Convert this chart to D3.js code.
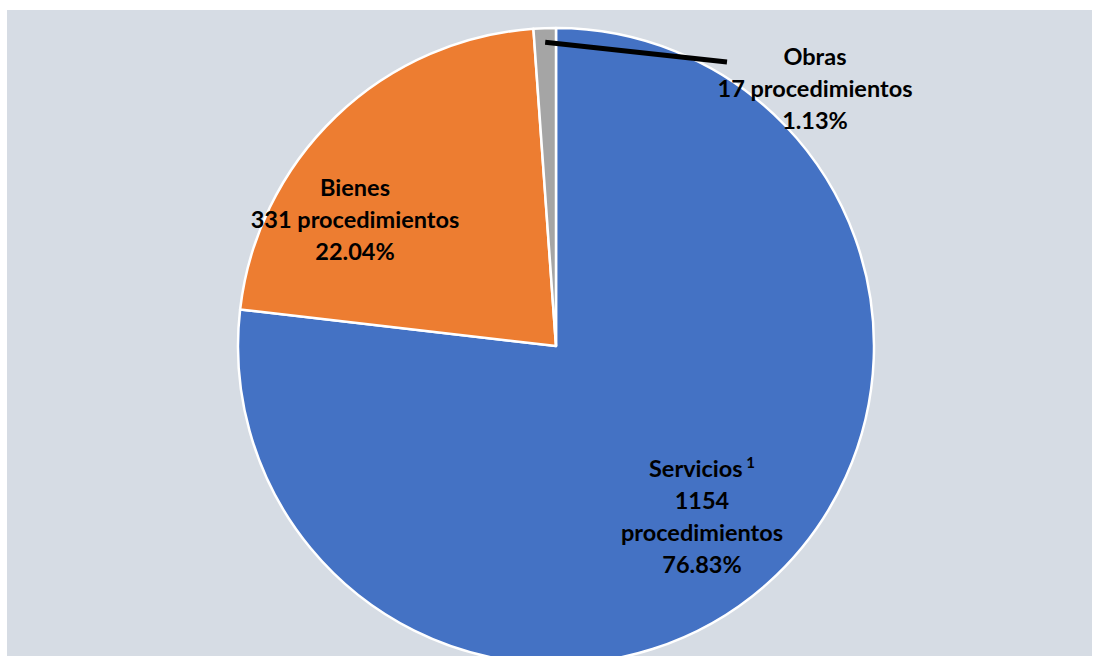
<!DOCTYPE html>
<html lang="es">
<head>
<meta charset="UTF-8">
<script src="https://d3js.org/d3.v7.min.js"></script>
<style>
  body { margin: 0; background: #fff; }
  svg text { font-family: Lato, "Open Sans", sans-serif; font-weight: bold; fill: #000; }
</style>
</head>
<body>
<svg width="1093" height="656"></svg>
<script>
// datos
const categorias = ["Servicios", "Bienes", "Obras"];
const procedimientos = [1154, 331, 17];
const porcentajes = ["76.83%", "22.04%", "1.13%"];
const colores = ["#4472C4", "#ED7D31", "#A5A5A5"];

const svg = d3.select("svg");
const W = 1093, H = 656;

// fondo del área del gráfico
svg.append("rect")
  .attr("x", 7).attr("y", 10)
  .attr("width", W - 8).attr("height", H - 10)
  .attr("fill", "#D6DCE4");

const cx = 556, cy = 346, r = 318;
const g = svg.append("g").attr("transform", `translate(${cx},${cy})`);

const pie = d3.pie().sort(null).value(d => d)(procedimientos);
const arc = d3.arc().innerRadius(0).outerRadius(r);

g.selectAll("path.slice")
  .data(pie)
  .join("path")
  .attr("class", "slice")
  .attr("d", arc)
  .attr("fill", (d, i) => colores[i])
  .attr("stroke", "#fff")
  .attr("stroke-width", 2.5)
  .attr("stroke-linejoin", "round");

// posiciones de etiquetas relativas al centro
const etiquetas = [
  { dx: 146, dy: 131, lineas: [["Servicios", "1"], ["1154"], ["procedimientos"], [porcentajes[0]]] },
  { dx: -201, dy: -150, lineas: [[categorias[1]], [procedimientos[1] + " procedimientos"], [porcentajes[1]]] },
  { dx: 259, dy: -281, lineas: [[categorias[2]], [procedimientos[2] + " procedimientos"], [porcentajes[2]]] }
];

// línea guía de Obras
const obras = pie[2];
const ang = (obras.startAngle + obras.endAngle) / 2;
const p0 = [Math.sin(ang) * (r - 14), -Math.cos(ang) * (r - 14)];
g.append("line")
  .attr("x1", p0[0]).attr("y1", p0[1])
  .attr("x2", 171).attr("y2", -284)
  .attr("stroke", "#000")
  .attr("stroke-width", 5);

etiquetas.forEach(e => {
  const t = g.append("text")
    .attr("text-anchor", "middle")
    .attr("font-size", 23.5);
  e.lineas.forEach((l, k) => {
    const ts = t.append("tspan")
      .attr("x", e.dx)
      .attr("y", e.dy + k * 32);
    ts.text(l[0]);
    if (l[1]) {
      ts.append("tspan").attr("font-size", 15).attr("dy", -9).text(" " + l[1]);
    }
  });
});
</script>
</body>
</html>
